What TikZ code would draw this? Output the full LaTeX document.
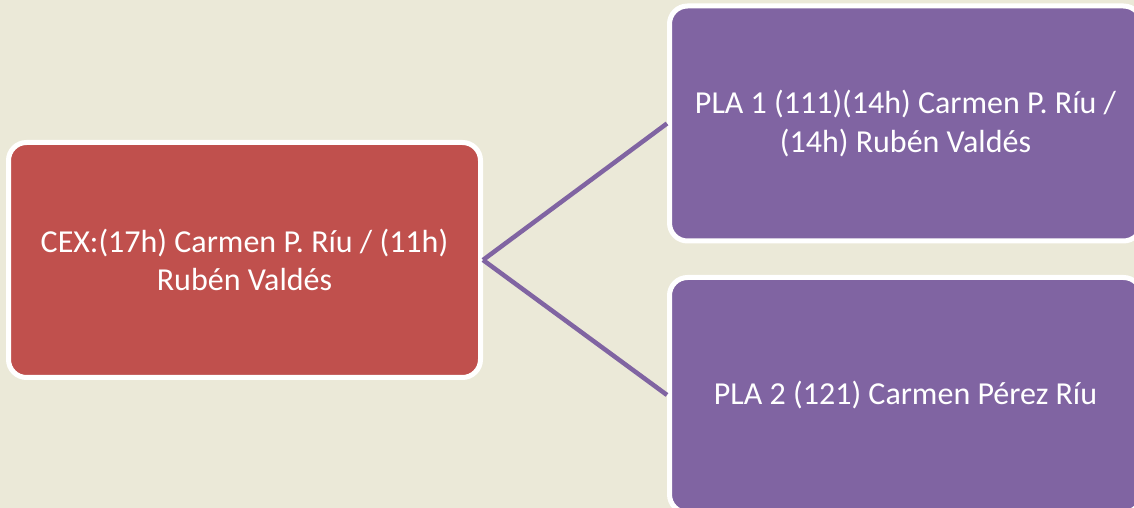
\documentclass[tikz,border=0pt]{standalone}
\usepackage{fontspec}
\setmainfont{Carlito}
\usetikzlibrary{positioning}
\usetikzlibrary{calc}
\definecolor{bgcream}{RGB}{235,233,216}
\definecolor{cexred}{RGB}{192,80,77}
\definecolor{plapurple}{RGB}{128,100,162}

\begin{document}
\begin{tikzpicture}[x=1pt,y=1pt]
\tikzstyle{box} =[rectangle,rounded corners=18pt,draw=white,line width=5pt,minimum width=472pt,minimum height=235pt,inner sep=0pt,text=white,align=center,font=\fontsize{32}{38.5}\selectfont]
\tikzstyle{link} =[draw=plapurple,line width=4.5pt]
\useasboundingbox (0,0) rectangle (1134,508);
\fill[bgcream] (0,0) rectangle (1134,508);

\node[box,fill=cexred](cex) at (244.5,248){CEX:(17h) Carmen P. Ríu / (11h)\\Rubén Valdés};

\node[box,fill=plapurple](pla1) at ($(cex)+(661,136.5)$){PLA 1 (111)(14h) Carmen P. Ríu /\\(14h) Rubén Valdés};
\draw[link] (cex.east)--(pla1.west);

\node[box,fill=plapurple](pla2) at ($(cex)+(661,-135)$){PLA 2 (121) Carmen Pérez Ríu};
\draw[link] (cex.east)--(pla2.west);
\end{tikzpicture}
\end{document}
